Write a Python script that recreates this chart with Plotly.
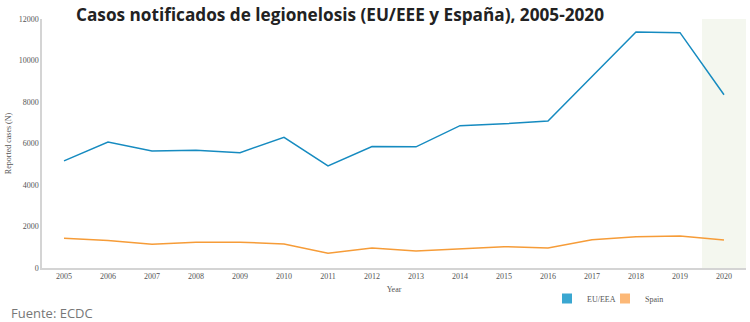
import plotly.graph_objects as go

# Notified legionellosis cases per year
years = list(range(2005, 2021))
eu_eea = [5160, 6070, 5640, 5670, 5560, 6300, 4920, 5850, 5840, 6860,
          6950, 7080, 9230, 11370, 11340, 8350]
spain = [1430, 1330, 1140, 1240, 1240, 1160, 710, 960, 820, 930,
         1030, 960, 1360, 1510, 1540, 1350]
y_ticks = [0, 2000, 4000, 6000, 8000, 10000, 12000]

line_blue = "#168bc0"
line_orange = "#f69c38"
key_blue = "#3aa7d1"
key_orange = "#fcb877"

fig = go.Figure()

fig.add_trace(go.Scatter(x=years, y=eu_eea, mode="lines", name="EU/EEA",
                         line=dict(color=line_blue, width=1.5), showlegend=False))
fig.add_trace(go.Scatter(x=years, y=spain, mode="lines", name="Spain",
                         line=dict(color=line_orange, width=1.5), showlegend=False))

# square legend keys, one legend box each so they can sit close together
fig.add_trace(go.Scatter(x=[None], y=[None], mode="markers", name="EU/EEA",
                         marker=dict(symbol="square", size=10, color=key_blue),
                         legend="legend"))
fig.add_trace(go.Scatter(x=[None], y=[None], mode="markers", name="Spain",
                         marker=dict(symbol="square", size=10, color=key_orange),
                         legend="legend2"))

# highlighted final year
fig.add_shape(type="rect", xref="x", yref="y", x0=2019.5, x1=2020.5, y0=0, y1=12000,
              fillcolor="#f4f7ef", line=dict(width=0), layer="below")

tick_font = dict(family="Liberation Serif", size=8, color="#555555")

fig.update_xaxes(range=[2004.5, 2020.5], tickvals=years, ticktext=[str(y) for y in years],
                 showgrid=False, zeroline=False, showline=True, linecolor="#d4d4d4",
                 linewidth=1.5, ticks="", tickfont=tick_font,
                 title=dict(text="Year", font=tick_font, standoff=6))
fig.update_yaxes(range=[0, 12000], tickvals=y_ticks, ticktext=[str(v) for v in y_ticks],
                 showgrid=False, zeroline=False, showline=True, linecolor="#d4d4d4",
                 linewidth=1.5, ticks="", tickfont=tick_font,
                 title=dict(text="Reported cases (N)", font=tick_font, standoff=6))

legend_style = dict(orientation="h", xanchor="left", y=-(284 - 268) / 249, yanchor="top",
                    font=dict(family="Liberation Serif", size=8, color="#555555"),
                    itemwidth=30, bgcolor="rgba(0,0,0,0)")

fig.update_layout(
    width=750, height=322,
    margin=dict(l=42, r=4, t=19, b=54, autoexpand=False),
    paper_bgcolor="white", plot_bgcolor="white",
    showlegend=True,
    legend=dict(x=(547 - 42) / 704, **legend_style),
    legend2=dict(x=(605 - 42) / 704, **legend_style),
    annotations=[
        dict(text="<b>Casos notificados de legionelosis (EU/EEE y España), 2005-2020</b>",
             xref="paper", yref="paper", x=(74 - 42) / 704, y=1 + (19 - 1) / 249,
             xanchor="left", yanchor="top", showarrow=False,
             font=dict(family="Open Sans", size=17.2, color="#222222")),
        dict(text="Fuente: ECDC", xref="paper", yref="paper",
             x=(9 - 42) / 704, y=-(302 - 268) / 249, xanchor="left", yanchor="top",
             showarrow=False, font=dict(family="Open Sans", size=13, color="#777777")),
    ],
)

fig.write_html("out.html")
